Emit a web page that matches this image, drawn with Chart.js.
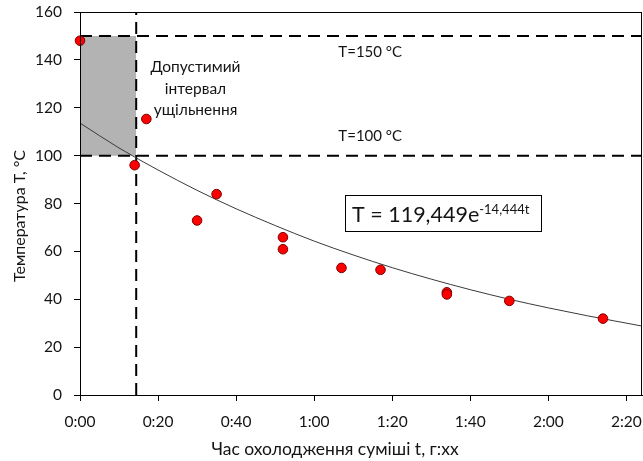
<!DOCTYPE html>
<html>
<head>
<meta charset="utf-8">
<script src="https://cdn.jsdelivr.net/npm/chart.js@4.4.1/dist/chart.umd.min.js"></script>
<style>
  html, body { margin: 0; padding: 0; background: #ffffff; }
  #wrap { width: 643px; height: 461px; }
</style>
</head>
<body>
<div id="wrap"><canvas id="c" width="643" height="461"></canvas></div>
<script>
// ---- Data (time in minutes, temperature in °C) ----
const timeMinutes = [0, 14, 17, 30, 35, 52, 52, 67, 77, 94, 94, 110, 134];
const temperatures = [148, 96, 115.3, 72.9, 83.9, 65.9, 60.9, 53.1, 52.3, 42.9, 42.0, 39.3, 31.9];

// Trend line
const trendTimes = [0, 10, 20, 30, 40, 50, 60, 70, 80, 90, 100, 110, 120, 130, 144];
const trendValues = [113.6, 103.2, 94.0, 85.5, 77.8, 70.8, 64.3, 58.5, 53.2, 48.4, 44.0, 40.0, 36.4, 33.1, 28.8];

// Limits / reference lines
const upperLimit = 150;
const lowerLimit = 100;
const timeLimit = 14.4;   // minutes
const xMax = 144;
const yMax = 160;
const yTickStep = 20;
const xTickValues = [0, 20, 40, 60, 80, 100, 120, 140];

const intervalLabel = ['Допустимий', 'інтервал', 'ущільнення'];
const upperLabel = 'T=150 °C';
const lowerLabel = 'T=100 °C';
const eqMain = 'T = 119,449e';
const eqSup = '-14,444t';
const xTitle = 'Час охолодження суміші t, г:хх';
const yTitle = 'Температура T, °C';

const FONT = 'Lato, "Open Sans", "Liberation Sans", sans-serif';
const TXT = '#141414';

const points = timeMinutes.map((t, i) => ({ x: t, y: temperatures[i] }));
const trend = trendTimes.map((t, i) => ({ x: t, y: trendValues[i] }));

function fmtTime(v) {
  const h = Math.floor(v / 60);
  const m = Math.round(v - h * 60);
  return h + ':' + (m < 10 ? '0' : '') + m;
}

const overlay = {
  id: 'overlay',
  afterDatasetsDraw(chart) {
    const { ctx, chartArea: a, scales: { x, y } } = chart;
    ctx.save();
    // plot area frame
    ctx.strokeStyle = '#000';
    ctx.lineWidth = 1;
    ctx.strokeRect(Math.round(a.left) + 0.5, Math.round(a.top) + 0.5,
                   Math.round(a.right - a.left) - 1, Math.round(a.bottom - a.top));

    ctx.fillStyle = TXT;
    // interval label
    ctx.font = '15.5px ' + FONT;
    ctx.textAlign = 'center';
    ctx.textBaseline = 'middle';
    const lblY = [137.1, 127.9, 119.1];
    intervalLabel.forEach((s, i) => ctx.fillText(s, x.getPixelForValue(29.6), y.getPixelForValue(lblY[i])));

    // limit labels
    ctx.font = '15px ' + FONT;
    ctx.textAlign = 'left';
    ctx.fillText(upperLabel, x.getPixelForValue(66.2), y.getPixelForValue(143.4));
    ctx.fillText(lowerLabel, x.getPixelForValue(66.2), y.getPixelForValue(108.3));

    // equation box
    const bx0 = Math.round(x.getPixelForValue(67.8)) + 0.5;
    const bx1 = Math.round(x.getPixelForValue(118.1)) + 0.5;
    const by0 = Math.round(y.getPixelForValue(83.4)) + 0.5;
    const by1 = Math.round(y.getPixelForValue(68.4)) + 0.5;
    ctx.fillStyle = '#fff';
    ctx.fillRect(bx0, by0, bx1 - bx0, by1 - by0);
    ctx.strokeStyle = '#000';
    ctx.lineWidth = 1;
    ctx.strokeRect(bx0, by0, bx1 - bx0, by1 - by0);
    ctx.fillStyle = TXT;
    ctx.textBaseline = 'alphabetic';
    ctx.font = '21.5px ' + FONT;
    const ex = x.getPixelForValue(69.7);
    const ey = y.getPixelForValue(72.3);
    ctx.fillText(eqMain, ex, ey);
    const w = ctx.measureText(eqMain).width;
    ctx.font = '13px ' + FONT;
    ctx.fillText(eqSup, ex + w, ey - 8);

    // axis titles
    ctx.font = '17.5px ' + FONT;
    ctx.textAlign = 'center';
    ctx.textBaseline = 'middle';
    ctx.fillText(xTitle, 335, 449);
    ctx.font = '16px ' + FONT;
    ctx.translate(20, 216);
    ctx.rotate(-Math.PI / 2);
    ctx.fillText(yTitle, 0, 0);
    ctx.restore();
  }
};

new Chart(document.getElementById('c'), {
  type: 'scatter',
  data: {
    datasets: [
      {
        label: 'Дані',
        data: points,
        backgroundColor: '#ff0000',
        borderColor: '#7a0000',
        borderWidth: 1,
        pointRadius: 4.8,
        clip: false,
        order: 0
      },
      {
        label: 'Тренд',
        type: 'line',
        data: trend,
        borderColor: '#3a3a3a',
        borderWidth: 1,
        pointRadius: 0,
        tension: 0.4,
        cubicInterpolationMode: 'monotone',
        fill: false,
        order: 1
      },
      {
        label: 'T=150',
        type: 'line',
        data: [{ x: 0, y: upperLimit }, { x: xMax, y: upperLimit }],
        borderColor: '#000',
        borderWidth: 2,
        borderDash: [12, 7],
        pointRadius: 0,
        fill: false,
        order: 2
      },
      {
        label: 'T=100',
        type: 'line',
        data: [{ x: 0, y: lowerLimit }, { x: xMax, y: lowerLimit }],
        borderColor: '#000',
        borderWidth: 2,
        borderDash: [12, 7],
        pointRadius: 0,
        fill: false,
        order: 2
      },
      {
        label: 't limit',
        type: 'line',
        data: [{ x: timeLimit, y: 0 }, { x: timeLimit, y: yMax }],
        borderColor: '#000',
        borderWidth: 2,
        borderDash: [12, 7],
        pointRadius: 0,
        fill: false,
        order: 2
      },
      {
        label: 'interval',
        type: 'line',
        data: [{ x: 0, y: upperLimit }, { x: timeLimit, y: upperLimit }],
        borderWidth: 0,
        borderColor: 'rgba(0,0,0,0)',
        backgroundColor: '#b3b3b3',
        pointRadius: 0,
        fill: { value: lowerLimit },
        order: 3
      }
    ]
  },
  options: {
    responsive: false,
    animation: false,
    devicePixelRatio: 1,
    layout: { autoPadding: false, padding: { top: 12, right: 1, left: 0, bottom: 0 } },
    plugins: {
      legend: { display: false },
      tooltip: { enabled: false },
      filler: { propagate: false }
    },
    scales: {
      x: {
        type: 'linear',
        min: 0,
        max: xMax,
        afterBuildTicks: s => { s.ticks = xTickValues.map(v => ({ value: v })); },
        afterFit: s => { s.height = 66; s.paddingLeft = 0; s.paddingRight = 0; s.paddingTop = 0; s.paddingBottom = 0; },
        border: { display: true, color: '#000', width: 1 },
        grid: { display: true, drawOnChartArea: false, drawTicks: true, tickLength: 6, color: '#000' },
        ticks: {
          callback: v => fmtTime(v),
          color: TXT,
          font: { family: FONT, size: 15.5 },
          padding: 12,
          maxRotation: 0,
          autoSkip: false
        }
      },
      y: {
        min: 0,
        max: yMax,
        afterFit: s => { s.width = 80; s.paddingTop = 0; s.paddingBottom = 0; s.paddingLeft = 0; s.paddingRight = 0; },
        border: { display: true, color: '#000', width: 1 },
        grid: { display: true, drawOnChartArea: false, drawTicks: true, tickLength: 6, color: '#000' },
        ticks: {
          stepSize: yTickStep,
          color: TXT,
          font: { family: FONT, size: 15.5 },
          padding: 12
        }
      }
    }
  },
  plugins: [overlay]
});
</script>
</body>
</html>
